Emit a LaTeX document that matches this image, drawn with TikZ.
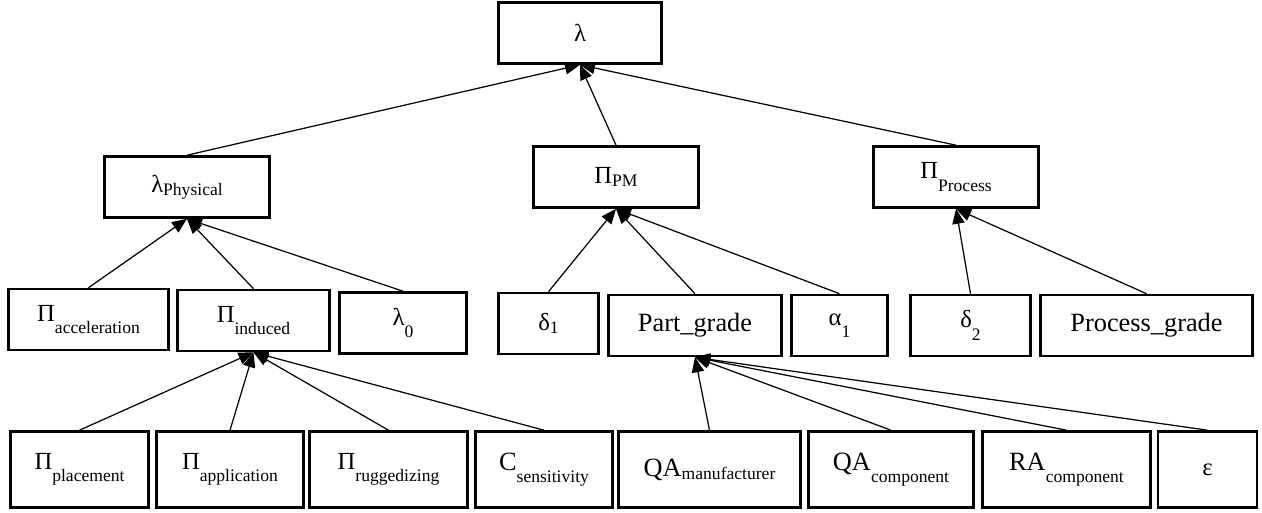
\documentclass[tikz,border=0pt]{standalone}
\usepackage{fontspec}
\setmainfont{Liberation Serif}
\usepackage{tikz}
\usetikzlibrary{arrows.meta}

\newcommand{\gr}[1]{{\fontsize{14}{16}\selectfont #1}}
\newcommand{\subdeep}[1]{\raisebox{-7pt}{\fontsize{10}{12}\selectfont #1}}
\newcommand{\subflat}[1]{\raisebox{-2pt}{\fontsize{10}{12}\selectfont #1}}

\begin{document}
\begin{tikzpicture}[
    x=0.02cm, y=-0.02cm,
    >={Triangle[length=8.5pt,width=7pt]},
    box/.style={draw, line width=1.5pt, minimum width=#1, inner sep=0pt,
                font=\fontsize{15}{18}\selectfont},
    tall/.style={minimum height=1.22cm},
    taller/.style={minimum height=1.52cm},
    link/.style={->, line width=0.7pt}
  ]

  \useasboundingbox (0,0) rectangle (1262,512);

  %% --- Top ---
  \node[box=3.26cm, tall] (lam) at (580,33) {\gr{λ}};

  %% --- Second level ---
  \node[box=3.30cm, tall] (lamPhys) at (187,187) {\gr{λ}\subflat{Physical}};
  \node[box=3.30cm, tall] (piPM)    at (616,177) {\gr{Π}\subflat{PM}};
  \node[box=3.30cm, tall] (piProc)  at (956,177) {\gr{Π}\subdeep{Process}};

  %% --- Third level ---
  \node[box=3.20cm, tall] (piAcc)     at (88.5,319.5)  {\gr{Π}\subdeep{acceleration}};
  \node[box=3.04cm, tall] (piInd)     at (253.5,320.5) {\gr{Π}\subdeep{induced}};
  \node[box=2.54cm, tall] (lamZero)   at (403,323)     {\gr{λ}\subdeep{0}};
  \node[box=2.00cm, tall] (deltaOne)  at (548.5,323.5) {\gr{δ}\subflat{1}};
  \node[box=3.46cm, tall] (partGrade) at (695,325.5)   {Part\_grade};
  \node[box=1.92cm, tall] (alphaOne)  at (839.5,325.5) {\gr{α}\subdeep{1}};
  \node[box=2.40cm, tall] (deltaTwo)  at (970.5,325.5) {\gr{δ}\subdeep{2}};
  \node[box=4.24cm, tall] (procGrade) at (1146.5,325.5) {Process\_grade};

  %% --- Bottom level ---
  \node[box=2.76cm, taller] (piPlace) at (79.5,469.5)  {\gr{Π}\subdeep{placement}};
  \node[box=2.94cm, taller] (piAppl)  at (230,469.5)   {\gr{Π}\subdeep{application}};
  \node[box=3.16cm, taller] (piRugg)  at (388.5,469.5) {\gr{Π}\subdeep{ruggedizing}};
  \node[box=2.74cm, taller] (cSens)   at (544,469.5)   {C\subdeep{sensitivity}};
  \node[box=3.64cm, taller] (qaMan)   at (709.5,469.5) {QA\subflat{manufacturer}};
  \node[box=3.30cm, taller] (qaComp)  at (891,469.5)   {QA\subdeep{component}};
  \node[box=3.36cm, taller] (raComp)  at (1066.5,469.5) {RA\subdeep{component}};
  \node[box=1.98cm, taller] (eps)     at (1207.5,469.5) {\gr{ε}};

  %% --- Connections ---
  \foreach \c in {lamPhys, piPM, piProc}
    \draw[link] (\c.north) -- (lam.south);
  \foreach \c in {piAcc, piInd, lamZero}
    \draw[link] (\c.north) -- (lamPhys.south);
  \foreach \c in {deltaOne, partGrade, alphaOne}
    \draw[link] (\c.north) -- (piPM.south);
  \foreach \c in {deltaTwo, procGrade}
    \draw[link] (\c.north) -- (piProc.south);
  \foreach \c in {piPlace, piAppl, piRugg, cSens}
    \draw[link] (\c.north) -- (piInd.south);
  \foreach \c in {qaMan, qaComp, raComp, eps}
    \draw[link] (\c.north) -- (partGrade.south);
\end{tikzpicture}
\end{document}
